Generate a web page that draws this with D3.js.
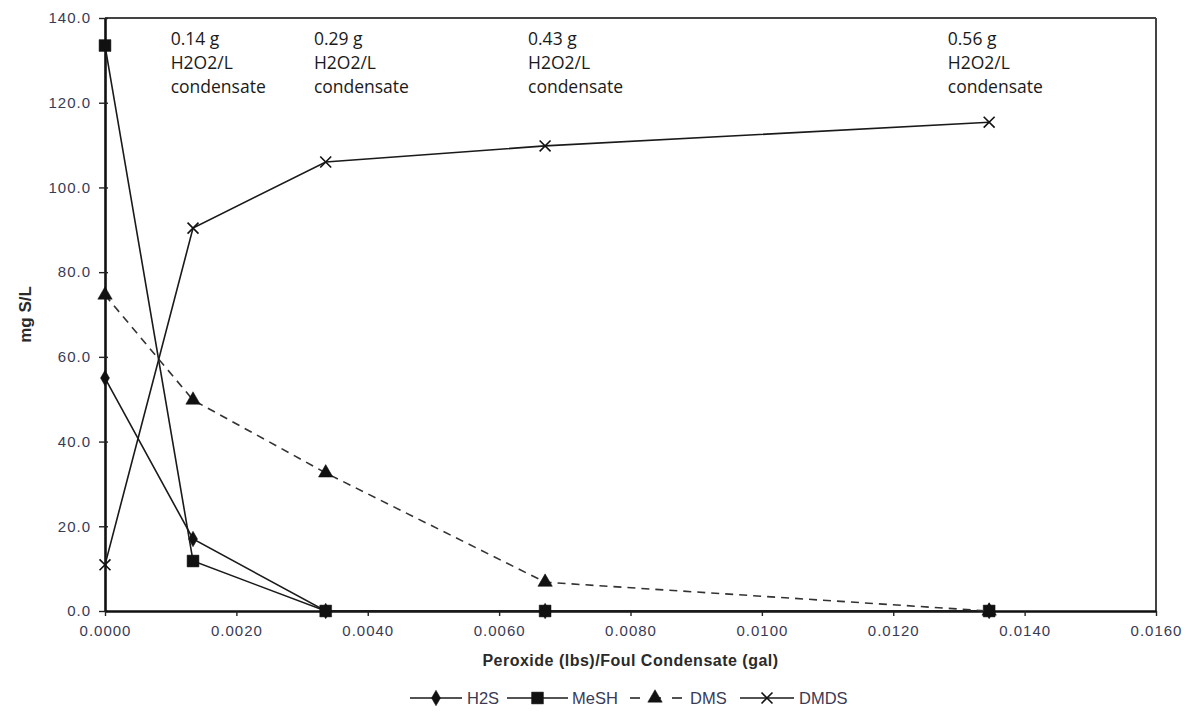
<!DOCTYPE html>
<html>
<head>
<meta charset="utf-8">
<script src="https://cdn.jsdelivr.net/npm/d3@7"></script>
<style>
  html, body { margin: 0; padding: 0; background: #fff; }
  svg { display: block; }
</style>
</head>
<body>
<svg id="chart" width="1188" height="712"></svg>
<script>
// Peroxide dose per gallon of foul condensate
const doses = [0.0, 0.00134, 0.00336, 0.0067, 0.01346];

// Sulfur compound concentrations (mg S/L)
const h2s  = [55.0, 17.0, 0.0, 0.0, 0.0];
const mesh = [133.5, 11.8, 0.0, 0.0, 0.0];
const dms  = [74.6, 49.8, 32.6, 6.8, 0.0];
const dmds = [10.9, 90.4, 106.0, 109.8, 115.4];

const seriesNames = ["H2S", "MeSH", "DMS", "DMDS"];

// Annotated H2O2 doses, placed along the dose axis
const noteDoses = [0.001, 0.00318, 0.00644, 0.01283];
const noteLabels = ["0.14 g", "0.29 g", "0.43 g", "0.56 g"];

const xTicks = [0, 0.002, 0.004, 0.006, 0.008, 0.010, 0.012, 0.014, 0.016];
const yTicks = [0, 20, 40, 60, 80, 100, 120, 140];

const svg = d3.select("#chart");
const plot = { left: 105, right: 1156, top: 18, bottom: 611 };

const x = d3.scaleLinear().domain([0, 0.016]).range([plot.left, plot.right]);
const y = d3.scaleLinear().domain([0, 140]).range([plot.bottom, plot.top]);

const sans = "Liberation Sans, Arial, sans-serif";

// frame: thin grey on top/right
svg.append("line").attr("x1", plot.left).attr("x2", plot.right)
  .attr("y1", plot.top).attr("y2", plot.top)
  .attr("stroke", "#444").attr("stroke-width", 2);
svg.append("line").attr("x1", plot.right).attr("x2", plot.right)
  .attr("y1", plot.top).attr("y2", plot.bottom)
  .attr("stroke", "#444").attr("stroke-width", 2);

// axes
const yAxis = d3.axisLeft(y).tickValues(yTicks).tickFormat(d3.format(".1f"))
  .tickSizeInner(6).tickSizeOuter(0).tickPadding(8);
const gy = svg.append("g").attr("transform", `translate(${plot.left},0)`).call(yAxis);

const xAxis = d3.axisBottom(x).tickValues(xTicks).tickFormat(d3.format(".4f"))
  .tickSizeInner(5).tickSizeOuter(0).tickPadding(9);
const gx = svg.append("g").attr("transform", `translate(0,${plot.bottom})`).call(xAxis);

[gx, gy].forEach(g => {
  g.select(".domain").attr("stroke", "#111").attr("stroke-width", 2.6);
  g.selectAll(".tick line").attr("stroke", "#222").attr("stroke-width", 1.4);
  g.selectAll(".tick text")
    .attr("font-family", sans)
    .attr("font-size", 15).attr("letter-spacing", 1)
    .attr("fill", "#3a3a55");
});
gy.selectAll(".tick line").attr("x2", -6).attr("x1", 3);

// axis titles
svg.append("text")
  .attr("x", (plot.left + plot.right) / 2).attr("y", 666)
  .attr("text-anchor", "middle")
  .attr("font-family", sans)
  .attr("font-size", 16).attr("font-weight", "bold")
  .attr("letter-spacing", 0.5).attr("fill", "#2a2a2a")
  .text("Peroxide (lbs)/Foul Condensate (gal)");

svg.append("text")
  .attr("transform", `translate(31,${(plot.top + plot.bottom) / 2}) rotate(-90)`)
  .attr("text-anchor", "middle")
  .attr("font-family", sans)
  .attr("font-size", 17).attr("font-weight", "bold").attr("fill", "#2a2a2a")
  .text("mg S/L");

// marker shapes
const sym = {
  H2S:  d3.symbol().type(d3.symbolDiamond).size(70),
  MeSH: d3.symbol().type(d3.symbolSquare).size(140),
  DMS:  d3.symbol().type(d3.symbolTriangle).size(90),
  DMDS: d3.symbol().type(d3.symbolX).size(80)
};

const series = [
  { name: "H2S",  values: h2s,  dash: null },
  { name: "MeSH", values: mesh, dash: null },
  { name: "DMS",  values: dms,  dash: "8,6" },
  { name: "DMDS", values: dmds, dash: null }
];

const line = d3.line().x(d => x(d[0])).y(d => y(d[1]));

series.forEach(s => {
  const pts = doses.map((d, i) => [d, s.values[i]]);
  svg.append("path")
    .attr("d", line(pts))
    .attr("fill", "none")
    .attr("stroke", s.dash ? "#333" : "#1a1a1a")
    .attr("stroke-width", 1.6)
    .attr("stroke-dasharray", s.dash);
  svg.append("g").selectAll("path").data(pts).join("path")
    .attr("transform", d => `translate(${x(d[0])},${y(d[1])})`)
    .attr("d", sym[s.name]())
    .attr("fill", s.name === "DMDS" ? "none" : "#111")
    .attr("stroke", "#111")
    .attr("stroke-width", s.name === "DMDS" ? 1.6 : 0.5);
});

// dose annotations
noteDoses.forEach((d, i) => {
  const t = svg.append("text")
    .attr("x", x(d)).attr("y", 45)
    .attr("font-family", "Open Sans, Noto Sans, sans-serif")
    .attr("font-size", 17.5).attr("fill", "#1a1a1a");
  [noteLabels[i], "H2O2/L", "condensate"].forEach((ln, j) => {
    t.append("tspan").attr("x", x(d)).attr("dy", j === 0 ? 0 : 24).text(ln);
  });
});

// legend
const legendY = 698;
const legendItems = [
  { name: "H2S",  x0: 410, x1: 462, tx: 467 },
  { name: "MeSH", x0: 507, x1: 568, tx: 572 },
  { name: "DMS",  x0: 628, x1: 682, tx: 690 },
  { name: "DMDS", x0: 740, x1: 794, tx: 799 }
];
const lg = svg.append("g");
legendItems.forEach(item => {
  const s = series.find(v => v.name === item.name);
  lg.append("line")
    .attr("x1", item.x0).attr("x2", item.x1)
    .attr("y1", legendY).attr("y2", legendY)
    .attr("stroke", "#1a1a1a").attr("stroke-width", 1.6)
    .attr("stroke-dasharray", s.dash ? "10,11" : null)
    .attr("stroke-dashoffset", s.dash ? -2 : null);
  lg.append("path")
    .attr("transform", `translate(${(item.x0 + item.x1) / 2},${legendY})`)
    .attr("d", sym[item.name]())
    .attr("fill", item.name === "DMDS" ? "none" : "#111")
    .attr("stroke", "#111")
    .attr("stroke-width", item.name === "DMDS" ? 1.6 : 0.5);
  lg.append("text")
    .attr("x", item.tx).attr("y", legendY + 6)
    .attr("font-family", sans)
    .attr("font-size", 16.5).attr("fill", "#3a3a55")
    .text(item.name);
});
</script>
</body>
</html>
